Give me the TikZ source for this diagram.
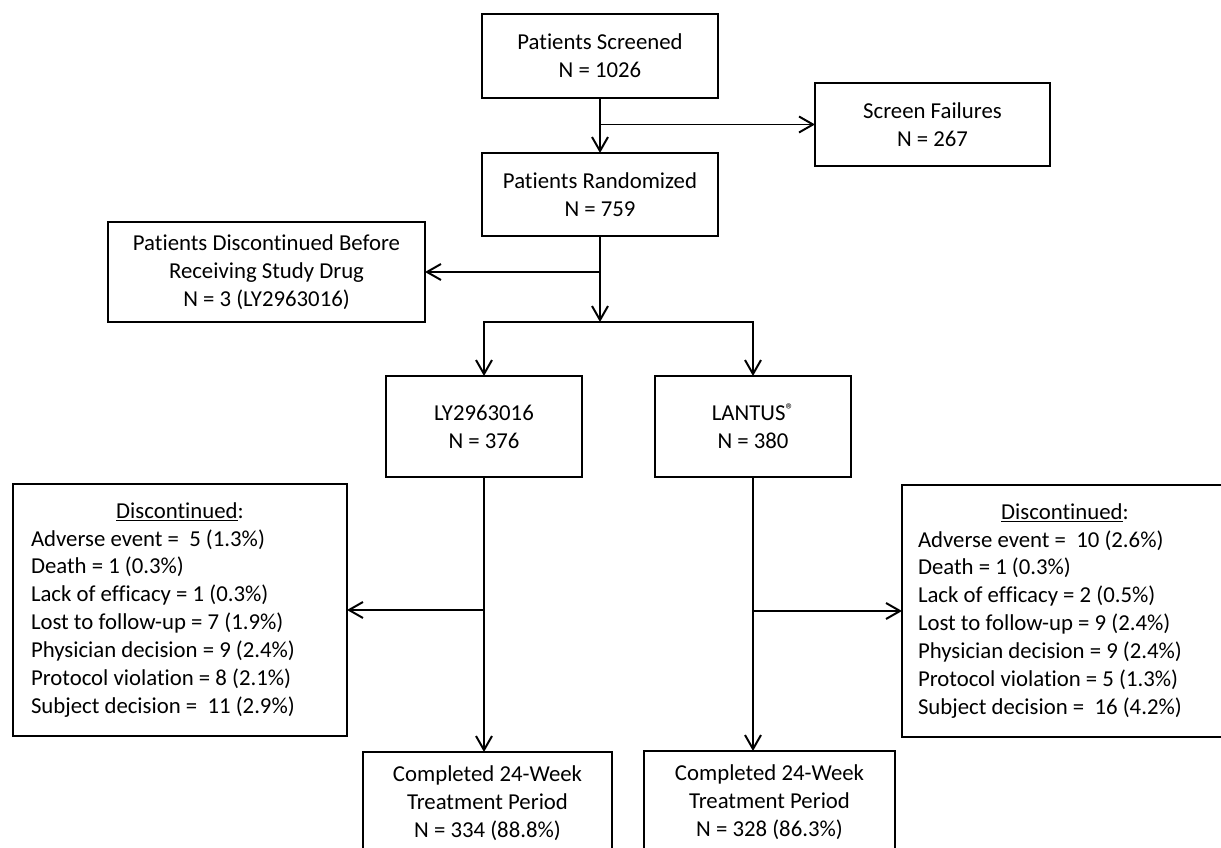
\documentclass[tikz,border=0pt]{standalone}
\usepackage{fontspec}
\setmainfont{Carlito}[Ligatures=NoCommon]
\usepackage{tikz}
\usetikzlibrary{positioning}
\usetikzlibrary{arrows.meta}

\newcommand{\regmark}{\raisebox{3.5pt}{\fontsize{12pt}{14pt}\selectfont\textregistered}}

\begin{document}
\begin{tikzpicture}[%
	line width=1.4pt,
	base/.style={draw=black, align=center, outer sep=0pt, inner sep=0pt,
		font=\fontsize{16.2pt}{19.9pt}\selectfont},
	rect/.style 2 args={base, minimum width=#1, minimum height=#2},
	listbox/.style={base, align=flush left, text width=#1, inner xsep=0.45cm,
		minimum height=6.3cm},%
	arrow/.style={arrows={-{Straight Barb[length=3.5mm, width=4mm]}}}%
	]
	\useasboundingbox (0,0) rectangle (30.525,-21.2);
	%
	% Nodes
	%
	\node[rect={5.9cm}{2.1cm}] (SCREENED) at (15,-1.4) {Patients Screened\\ N = 1026};
	\node[rect={5.9cm}{2.075cm}, below=1.375cm of SCREENED] (RANDOM) {Patients Randomized\\ N = 759};
	\node[rect={5.875cm}{2.075cm}] (FAIL) at (23.3125,-3.1125) {Screen Failures\\ N = 267};
	\node[rect={7.925cm}{2.5cm}] (PRIOR) at (6.6625,-6.8) {Patients Discontinued Before\\ Receiving Study Drug\\ N = 3 (LY2963016)};
	\node[rect={4.9cm}{2.525cm}] (LY) at (12.1,-10.6625) {LY2963016\\ N = 376};
	\node[rect={4.9cm}{2.525cm}, right=1.825cm of LY] (LANTUS) {LANTUS\regmark\\ N = 380};
	\node[listbox=7.45cm] (DISCLY) at (4.5,-15.25) {\makebox[\hsize]{\underline{Discontinued}:}\\
		Adverse event =~ 5 (1.3\%)\\ Death = 1 (0.3\%)\\ Lack of efficacy = 1 (0.3\%)\\
		Lost to follow-up = 7 (1.9\%)\\ Physician decision = 9 (2.4\%)\\
		Protocol violation = 8 (2.1\%)\\ Subject decision =~ 11 (2.9\%)};
	\node[listbox=7.8cm, inner xsep=0.4cm] (DISCLAN) at (26.85,-15.275) {\makebox[7.35cm]{\underline{Discontinued}:}\\
		Adverse event =~ 10 (2.6\%)\\ Death = 1 (0.3\%)\\ Lack of efficacy = 2 (0.5\%)\\
		Lost to follow-up = 9 (2.4\%)\\ Physician decision = 9 (2.4\%)\\
		Protocol violation = 5 (1.3\%)\\ Subject decision =~ 16 (4.2\%)};
	\node[rect={6.225cm}{2.55cm}] (DONELY) at (12.1875,-20.075) {Completed 24-Week\\ Treatment Period\\ N = 334 (88.8\%)};
	\node[rect={6.275cm}{2.575cm}] (DONELAN) at (19.2375,-20.0625) {Completed 24-Week\\ Treatment Period\\ N = 328 (86.3\%)};
	%
	% Connectors
	%
	\coordinate (SPLIT1) at (SCREENED.south |- FAIL.west);
	\coordinate (SPLIT2) at (RANDOM.south |- PRIOR.east);
	\coordinate (BAR) at ([yshift=-2.15cm]RANDOM.south);
	\coordinate (SPLIT3) at (LY.south |- DISCLY.east);
	\coordinate (SPLIT4) at (LANTUS.south |- DISCLAN.west);
	\path[arrow] (SCREENED) edge (RANDOM);
	\path[arrow] (SPLIT1) edge (FAIL);
	\path[arrow] (RANDOM) edge (BAR);
	\path[arrow] (SPLIT2) edge (PRIOR);
	\draw[arrow] (BAR) -| (LY);
	\draw[arrow] (BAR) -| (LANTUS);
	\draw[arrow] (LY) -- (LY.south |- DONELY.north);
	\path[arrow] (SPLIT3) edge (DISCLY);
	\draw[arrow] (LANTUS) -- (LANTUS.south |- DONELAN.north);
	\path[arrow] (SPLIT4) edge (DISCLAN);
\end{tikzpicture}
\end{document}
